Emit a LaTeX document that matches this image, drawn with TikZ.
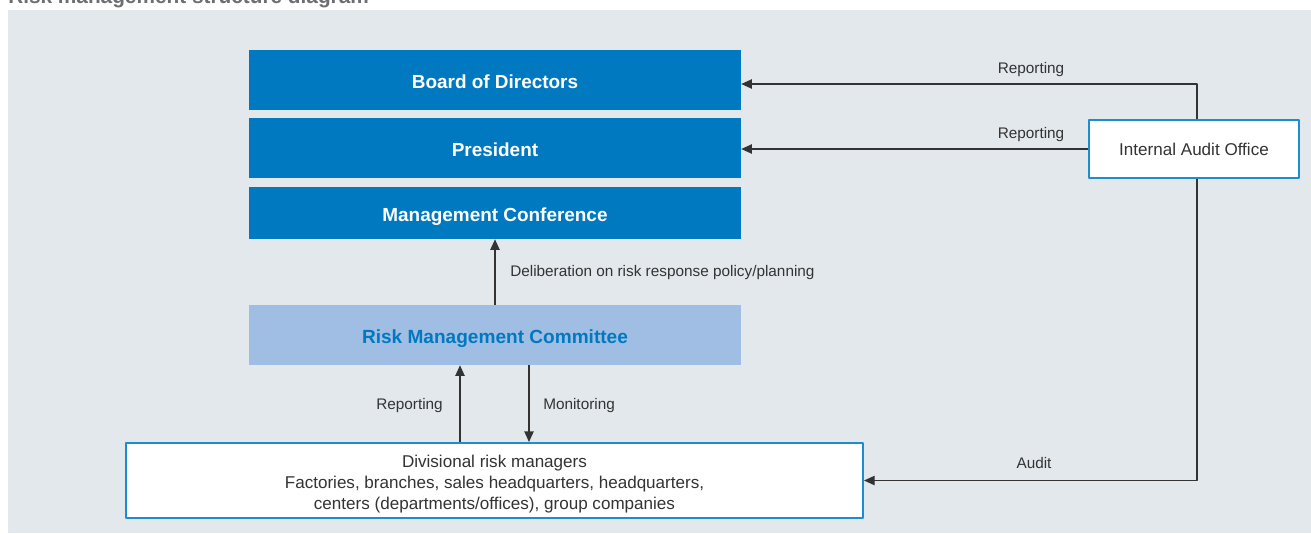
\documentclass[tikz,border=0pt]{standalone}
\usepackage{fontspec}
\setmainfont{Liberation Sans}
\usepackage{xcolor}
\usetikzlibrary{arrows.meta}
\definecolor{panelgrey}{HTML}{E3E8ED}
\definecolor{mainblue}{HTML}{0079C1}
\definecolor{paleblue}{HTML}{A0BDE3}
\definecolor{edgeblue}{HTML}{1C8DD0}
\definecolor{inkgrey}{HTML}{333333}
\definecolor{titlegrey}{HTML}{6D6E71}
\tikzset{
  every picture/.style={line join=round, >={Triangle[length=8pt,width=7pt]}},
  topbox/.style={fill=mainblue, text=white, inner sep=0pt, text height=12pt, text depth=0pt,
    font=\bfseries\fontsize{14.2}{17}\selectfont, minimum width=369pt},
  commbox/.style={fill=paleblue, text=mainblue, inner sep=0pt, text height=12pt, text depth=0pt,
    font=\bfseries\fontsize{14.3}{17}\selectfont, minimum width=369pt, minimum height=45pt},
  whitebox/.style={fill=white, draw=edgeblue, line width=1.5pt, text=inkgrey, inner sep=0pt,
    align=center, font=\fontsize{12.8}{15.75}\selectfont},
  lab/.style={text=inkgrey, inner sep=0pt, text height=8.3pt, text depth=0pt,
    font=\fontsize{11.5}{13}\selectfont},
  link/.style={->, draw=inkgrey, line width=1pt},
}
\begin{document}
\begin{tikzpicture}[x=0.75pt,y=-0.75pt]
\useasboundingbox (0,0) rectangle (1311,533);
\fill[panelgrey] (7.5,9.5) rectangle (1311,533);
\node[anchor=base west, inner sep=0pt, text=titlegrey, font=\bfseries\fontsize{15.6}{18}\selectfont]
  (title) at (8,3) {Risk management structure diagram};

% boxes
\node[topbox, minimum height=45pt] (board) at (495,80) {Board of Directors};
\node[topbox, minimum height=45pt] (president) at (495,148) {President};
\node[topbox, minimum height=39pt] (conference) at (495,213) {Management Conference};
\node[commbox] (committee) at (495,335) {Risk Management Committee};
\node[whitebox, minimum width=552.75pt, minimum height=56.25pt] (divisional) at (494.5,480.5)
  {\rule{0pt}{15.3pt}Divisional risk managers\\Factories, branches, sales headquarters, headquarters,\\centers (departments/offices), group companies};
\node[whitebox, minimum width=157.5pt, minimum height=43.5pt] (audit) at (1194,149) {Internal Audit Office};

% helper coordinates
\coordinate (upx) at (460,0);
\coordinate (downx) at (529,0);
\coordinate (auditx) at (1197,0);
\coordinate (boardy) at (0,84);

% connectors
\draw[link] (audit.north -| auditx) |- (board.east |- boardy);
\draw[link] (audit.west) -- (audit.west -| president.east);
\draw[link] (audit.south -| auditx) |- (divisional.east);
\draw[link] (committee.north) -- (conference.south);
\draw[link] (divisional.north -| upx) -- (committee.south -| upx);
\draw[link] (committee.south -| downx) -- (divisional.north -| downx);

% labels
\node[lab] (repboard) at (1031,68) {Reporting};
\node[lab] (reppres) at (1031,133) {Reporting};
\node[lab] (auditlab) at (1034,463) {Audit};
\node[lab, anchor=west] (delib) at (510,271) {Deliberation on risk response policy/planning};
\node[lab, anchor=east] (repup) at (443,404) {Reporting};
\node[lab, anchor=west] (monitor) at (543,404) {Monitoring};
\end{tikzpicture}
\end{document}
